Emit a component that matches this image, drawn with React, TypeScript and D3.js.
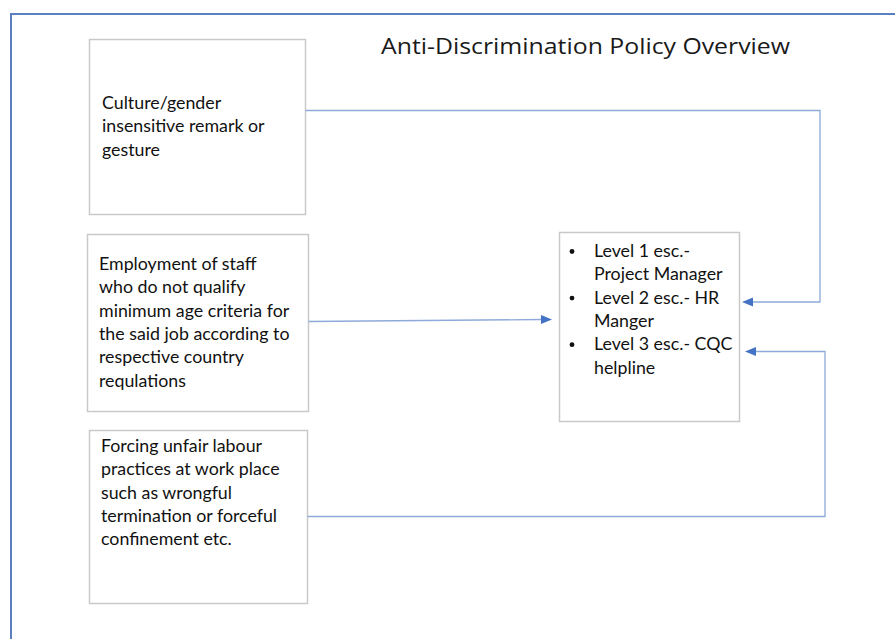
import React from 'react';
import {line} from 'd3';

const width = 895;
const height = 639;

const title = "Anti-Discrimination Policy Overview";

const causeA = ["Culture/gender", "insensitive remark or", "gesture"];
const causeB = [
  "Employment of  staff",
  "who do not qualify",
  "minimum age criteria for",
  "the said job according to",
  "respective country",
  "requlations",
];
const causeC = [
  "Forcing unfair labour",
  "practices at work place",
  "such as wrongful",
  "termination or forceful",
  "confinement etc.",
];
const escalation = [
  ["Level 1 esc.-", "Project Manager"],
  ["Level 2 esc.- HR", "Manger"],
  ["Level 3 esc.- CQC", "helpline"],
];

// layout
const boxA = {x: 89.5, y: 39.5, w: 216, h: 175, tx: 102, ty: 109};
const boxB = {x: 87.5, y: 234.5, w: 221, h: 177, tx: 99, ty: 270};
const boxC = {x: 89.5, y: 430.5, w: 218, h: 173, tx: 101, ty: 452};
const boxT = {x: 559.5, y: 232.5, w: 180, h: 189, bx: 572, tx: 594, ty: 257};
const lineH = 23.3;
const fs = 17.8;

const font = "Lato, 'DejaVu Sans', sans-serif";
const lineColor = "#8eaadb";
const headColor = "#4472c4";

const path = line<[number, number]>();

const Box = ({b, lines}: {b: any, lines: string[]}) => (
  <g>
    <rect x={b.x} y={b.y} width={b.w} height={b.h} fill="#fff" stroke="#c9c9c9" strokeWidth={1.5}/>
    <text fontFamily={font} fontSize={fs} fill="#111">
      {lines.map((t, i) => (
        <tspan key={i} x={b.tx} y={b.ty + i * lineH}>{t}</tspan>
      ))}
    </text>
  </g>
);

export default function App() {
  const arrows: [number, number][][] = [
    [[305.5, 110.5], [820, 110.5], [820, 302], [752, 302]],
    [[308.5, 321.5], [541, 319.5]],
    [[307.5, 516.5], [825, 516.5], [825, 351.5], [755, 351.5]],
  ];
  const tips: [number, number, number][] = [
    [742, 302, 0],
    [552, 319.5, 1],
    [745, 351.5, 0],
  ];

  return (
    <svg width={width} height={height} style={{position: 'absolute', left: 0, top: 0, background: '#fff'}}>
      <path d={path([[11, height], [11, 14], [width, 14]]) ?? ''} fill="none" stroke="#5b7fbf" strokeWidth={2}/>
      <text x={381} y={54} fontFamily="'Open Sans', sans-serif" fontSize={22.5} fill="#1a1a1a"
            textLength={409} lengthAdjust="spacingAndGlyphs">{title}</text>

      <Box b={boxA} lines={causeA}/>
      <Box b={boxB} lines={causeB}/>
      <Box b={boxC} lines={causeC}/>

      <rect x={boxT.x} y={boxT.y} width={boxT.w} height={boxT.h} fill="#fff" stroke="#c9c9c9" strokeWidth={1.5}/>
      {escalation.map((item, i) => (
        <g key={i}>
          <circle cx={boxT.bx} cy={boxT.ty - 5.5 + i * 2 * lineH} r={2.4} fill="#111"/>
          <text fontFamily={font} fontSize={fs} fill="#111">
            {item.map((t, j) => (
              <tspan key={j} x={boxT.tx} y={boxT.ty + (i * 2 + j) * lineH}>{t}</tspan>
            ))}
          </text>
        </g>
      ))}

      {arrows.map((a, i) => (
        <path key={i} d={path(a) ?? ''} fill="none" stroke={lineColor} strokeWidth={1.3}/>
      ))}
      {tips.map(([x, y, dir], i) => {
        const s = dir === 0 ? 1 : -1;
        return (
          <path key={i}
                d={path([[x, y], [x + s * 11, y - 4.5], [x + s * 11, y + 4.5]]) + 'Z'}
                fill={headColor}/>
        );
      })}
    </svg>
  );
}
